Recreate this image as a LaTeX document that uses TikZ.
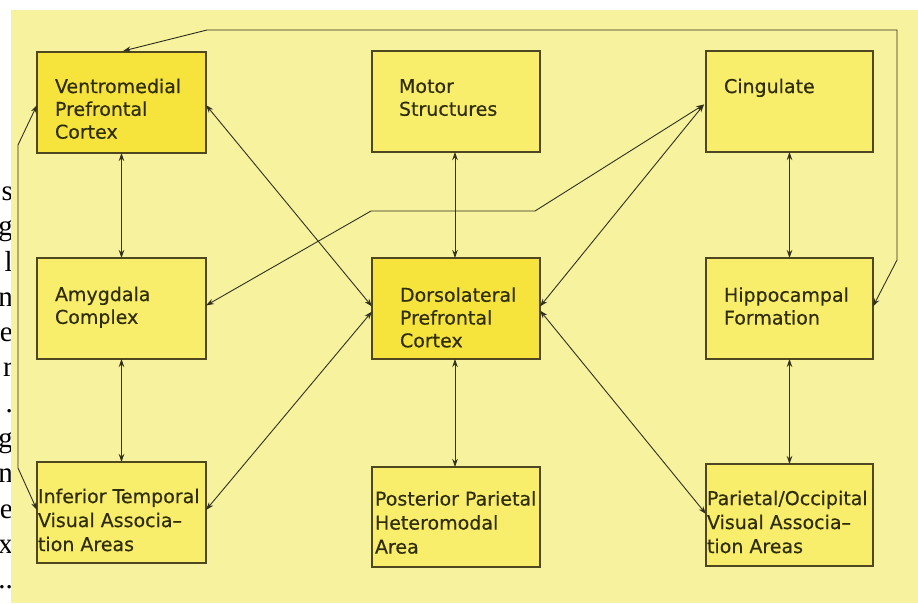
\documentclass[tikz,border=0pt]{standalone}
\usepackage{fontspec}
\setmainfont{DejaVu Sans}[FakeBold=0.4]
\newfontfamily\sidefont{Liberation Serif}
\usetikzlibrary{arrows.meta,calc}
\definecolor{bgy}{HTML}{F7F29E}
\definecolor{boxy}{HTML}{F9EE6C}
\definecolor{boxb}{HTML}{F6E43C}
\definecolor{edge}{HTML}{4E4720}
\definecolor{txt}{HTML}{2F2C0A}
\definecolor{wire}{HTML}{333020}
\tikzset{
  box/.style={draw=edge, line width=1.3pt, fill=boxy, inner sep=0pt, outer sep=0pt,
              minimum width=168pt, minimum height=101pt, anchor=north west},
  lbl/.style={inner sep=0pt, outer sep=0pt, align=left, text=txt, anchor=north west,
              font=\fontsize{19}{22.8}\selectfont},
  lblb/.style={lbl, font=\fontsize{19}{24}\selectfont},
  conn/.style={draw=wire, line width=0.9pt, {Stealth[length=8pt,width=5.5pt]}-{Stealth[length=8pt,width=5.5pt]}},
  side/.style={inner sep=0pt, anchor=base east, font=\sidefont\fontsize{29}{34}\selectfont}
}
\begin{document}
\begin{tikzpicture}[x=1pt,y=-1pt]
\useasboundingbox (0,0) rectangle (918,603);
\fill[white] (0,0) rectangle (918,603);
% cut-off text of the neighbouring column
\node[side] (s0) at (13,200) {s};
\node[side] (s1) at (13,235) {g};
\node[side] (s2) at (13,271) {l};
\node[side] (s3) at (13,306) {n};
\node[side] (s4) at (13,341) {e};
\node[side] (s5) at (13,376) {r};
\node[side] (s6) at (13,412) {.};
\node[side] (s7) at (13,447) {g};
\node[side] (s8) at (13,482) {n};
\node[side] (s9) at (13,518) {e};
\node[side] (s10) at (13,553) {x};
\node[side] (s11) at (13,588) {..};
\fill[bgy] (11,10) rectangle (918,603);

% boxes
\node[box, fill=boxb, minimum width=169pt] (vm) at (37,52) {};
\node[box] (mo) at (372,51) {};
\node[box, minimum width=167pt] (ci) at (706,51) {};
\node[box, minimum width=169pt] (am) at (37,258) {};
\node[box, fill=boxb] (dl) at (372,258) {};
\node[box, minimum width=167pt] (hi) at (706,258) {};
\node[box, minimum width=169pt] (it) at (37,462) {};
\node[box, minimum height=100pt] (pp) at (372,467) {};
\node[box, minimum width=167pt, minimum height=102pt] (po) at (706,464) {};

% labels
\node[lbl] (vmt) at (55,78.6) {Ventromedial\\Prefrontal\\Cortex};
\node[lbl] (mot) at (399,79.1) {Motor\\Structures};
\node[lbl] (cit) at (724,78.6) {Cingulate};
\node[lbl] (amt) at (55,286.6) {Amygdala\\Complex};
\node[lbl] (dlt) at (400,287.3) {Dorsolateral\\Prefrontal\\Cortex};
\node[lbl] (hit) at (724,287.3) {Hippocampal\\Formation};
\node[lblb] (itt) at (38,488.6) {Inferior Temporal\\Visual Associa–\\tion Areas};
\node[lblb] (ppt) at (375,491.1) {Posterior Parietal\\Heteromodal\\Area};
\node[lblb] (pot) at (707,490.6) {Parietal/Occipital\\Visual Associa–\\tion Areas};

% corner points
\coordinate (a1) at (371,211);
\coordinate (a2) at (535,211);
\coordinate (h1) at (897,260);
\coordinate (h2) at (897,30);
\coordinate (h3) at (207,30);
\coordinate (l1) at (18,145);
\coordinate (l2) at (18,468);

% vertical links
\draw[conn] (vm.south) -- (am.north);
\draw[conn] (am.south) -- (it.north);
\draw[conn] ($(mo.south)+(-1,0)$) -- ($(dl.north)+(-1,0)$);
\draw[conn] ($(dl.south)+(-1,0)$) -- ($(pp.north)+(-1,0)$);
\draw[conn] (ci.south) -- (hi.north);
\draw[conn] (hi.south) -- (po.north);

% diagonal links
\draw[conn] ($(vm.east)+(0,2.5)$) -- ($(dl.west)+(0,-2)$);
\draw[conn] ($(it.east)+(0,-2.5)$) -- ($(dl.west)+(0,3)$);
\draw[conn] ($(dl.east)+(0,-2)$) -- ($(ci.west)+(-2,3)$);
\draw[conn] ($(dl.east)+(0,2)$) -- ($(po.west)+(0,-1)$);
\draw[conn] ($(am.east)+(0,-3)$) -- (a1) -- (a2) -- ($(ci.west)+(-2,3)$);

% long loops
\draw[conn] ($(hi.east)+(0,-2)$) -- (h1) -- (h2) -- (h3) -- ($(vm.north)+(1.5,-1)$);
\draw[conn] ($(vm.west)+(0,2.5)$) -- (l1) -- (l2) -- ($(it.west)+(0,-2.5)$);
\end{tikzpicture}
\end{document}
